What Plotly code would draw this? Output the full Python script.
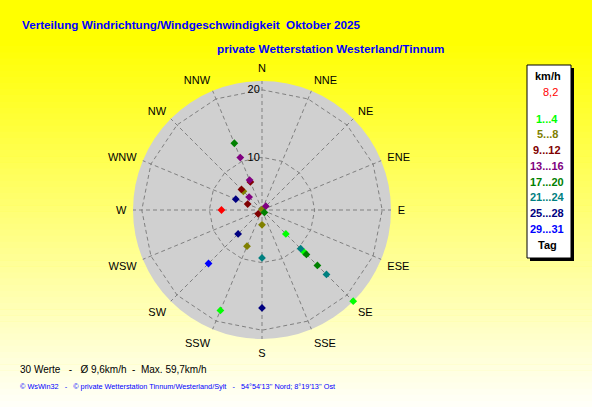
import plotly.graph_objects as go

W, H = 592, 407

directions = ["N", "NNE", "NE", "ENE", "E", "ESE", "SE", "SSE",
              "S", "SSW", "SW", "WSW", "W", "WNW", "NW", "NNW"]

group_labels = ["1...4", "5...8", "9...12", "13...16", "17...20", "21...24", "25...28", "29...31"]
group_colors = ["#00ff00", "#808000", "#800000", "#800080", "#008000", "#008080", "#000080", "#0000ff"]
group_dirs = [
    ["SE", "SE", "SSW", "SE"],
    ["NW", "N", "S", "SSW"],
    ["NNW", "NW", "WNW", "SW"],
    ["NNW", "NNW", "NW", "NE"],
    ["NNW", "SE", "SE", "SE"],
    ["SE", "S", "SE", "SW"],
    ["WNW", "SW", "S"],
    ["SW"],
]
group_speeds = [
    [7.2, 11.0, 18.3, 21.3],
    [6.1, 2.3, 4.4, 8.0],
    [6.7, 6.5, 4.5, 3.0],
    [10.6, 7.0, 4.9, 3.0],
    [12.9, 2.7, 11.5, 13.8],
    [10.3, 9.3, 15.7, 21.4],
    [6.4, 7.2, 16.7],
    [13.4],
]
mean_dir = "W"
mean_speed = 8.2
mean_label = "8,2"

radial_ticks = [10, 20]
radial_range = [2.2, 21.3]

title1 = "Verteilung Windrichtung/Windgeschwindigkeit  Oktober 2025"
title2 = "private Wetterstation Westerland/Tinnum"
stats_text = "30 Werte   -   Ø 9,6km/h  -  Max. 59,7km/h"
footer_text = "© WsWin32   -   © private Wetterstation Tinnum/Westerland/Sylt   -   54°54'13'' Nord; 8°19'13'' Ost"

fig = go.Figure()
for lab, col, d, s in zip(group_labels, group_colors, group_dirs, group_speeds):
    fig.add_trace(go.Scatterpolar(r=s, theta=d, mode="markers", name=lab,
                                  marker=dict(symbol="diamond", size=6, color=col),
                                  showlegend=False))
fig.add_trace(go.Scatterpolar(r=[mean_speed], theta=[mean_dir], mode="markers",
                              marker=dict(symbol="diamond", size=6, color="#ff0000"),
                              showlegend=False))

# geometry
cx, cy, R = 262, 210, 129
px = lambda x: x / W
py = lambda y: 1 - y / H

shapes = []
# vertical yellow gradient background
n = 60
y_start = 40
shapes.append(dict(type="rect", xref="paper", yref="paper", x0=0, x1=1,
                   y0=py(y_start + 1), y1=1, fillcolor="rgb(255,255,0)",
                   line=dict(width=0), layer="below"))
for i in range(n):
    y0 = y_start + (H - y_start) * i / n
    y1 = y_start + (H - y_start) * (i + 1) / n + 0.5
    b = int(round(250 * (i + 0.5) / n))
    shapes.append(dict(type="rect", xref="paper", yref="paper", x0=0, x1=1,
                       y0=py(y1), y1=py(y0), fillcolor=f"rgb(255,255,{b})",
                       line=dict(width=0), layer="below"))
# gray disk
shapes.append(dict(type="circle", xref="paper", yref="paper",
                   x0=px(cx - R), x1=px(cx + R), y0=py(cy + R), y1=py(cy - R),
                   fillcolor="#d0d0d0", line=dict(width=0), layer="below"))
# legend box with shadow
bx0, bx1, by0, by1 = 527, 571, 65, 258
shapes.append(dict(type="rect", xref="paper", yref="paper",
                   x0=px(bx0 + 3), x1=px(bx1 + 3), y0=py(by1 + 3), y1=py(by0 + 3),
                   fillcolor="#000000", line=dict(width=0)))
shapes.append(dict(type="rect", xref="paper", yref="paper",
                   x0=px(bx0), x1=px(bx1), y0=py(by1), y1=py(by0),
                   fillcolor="#ffffff", line=dict(color="#000000", width=1)))

ann = []
SANS = "Liberation Sans, Arial, sans-serif"
def text(x, y, s, color="#000000", size=11, bold=False, anchor="left", family=SANS):
    ann.append(dict(x=px(x), y=py(y), xref="paper", yref="paper", text=f"<b>{s}</b>" if bold else s,
                    showarrow=False, xanchor=anchor, yanchor="middle",
                    font=dict(family=family, size=size, color=color)))

text(20, 24, title1, color="#0000ff", size=11.7, bold=True)
text(215, 49, title2, color="#0000ff", size=11.7, bold=True)
text(18, 369, stats_text, size=10)
text(18, 386, footer_text, color="#0000ff", size=7.3)

text(548, 76, "km/h", bold=True, anchor="center")
text(550, 92, mean_label, color="#ff0000", anchor="center")
leg_y = [119, 134, 150, 166, 182, 197, 213, 229]
for lab, col, yy in zip(group_labels, group_colors, leg_y):
    text(547, yy, lab, color=col, bold=True, anchor="center")
text(547, 245, "Tag", bold=True, anchor="center")

fig.update_layout(
    width=W, height=H, margin=dict(l=0, r=0, t=0, b=0),
    paper_bgcolor="#ffff00", plot_bgcolor="rgba(0,0,0,0)",
    shapes=shapes, annotations=ann,
    font=dict(family=SANS, size=11, color="#000000"),
    polar=dict(
        domain=dict(x=[px(cx - R), px(cx + R)], y=[py(cy + R), py(cy - R)]),
        bgcolor="rgba(0,0,0,0)",
        gridshape="linear",
        angularaxis=dict(type="category", categoryorder="array", categoryarray=directions,
                         rotation=90, direction="clockwise", showline=False,
                         ticks="outside", ticklen=4, tickcolor="rgba(0,0,0,0)",
                         gridcolor="#808080", griddash="4px,3px", gridwidth=1,
                         tickfont=dict(size=11, color="#000000")),
        radialaxis=dict(range=radial_range, tickvals=radial_ticks, angle=90,
                        side="counterclockwise", tickangle=90,
                        showline=False, ticks="", gridcolor="#808080",
                        griddash="4px,3px", gridwidth=1,
                        tickfont=dict(size=11, color="#000000")),
    ),
)
fig.write_html("out.html", config={"displayModeBar": False},
               post_script="document.body.style.margin='0';document.body.style.padding='0';")
